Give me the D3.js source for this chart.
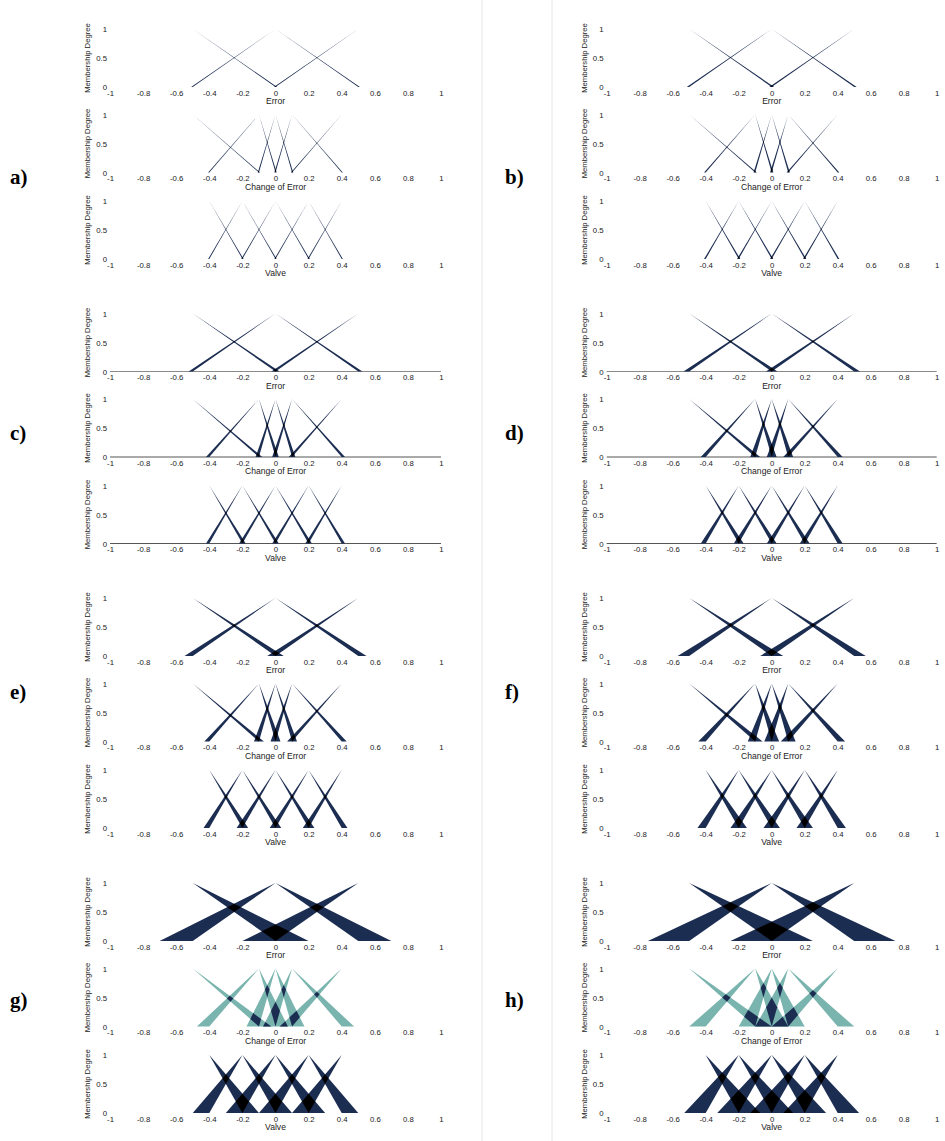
<!DOCTYPE html>
<html><head><meta charset="utf-8">
<script src="https://cdn.jsdelivr.net/npm/d3@7"></script>
<style>
body{margin:0;background:#fff;}
text{font-family:"Liberation Sans",Arial,Helvetica,sans-serif;}
</style>
</head><body>
<svg id="chart" width="945" height="1141"></svg>
<script>
// ---------------- data ----------------
const panelLabels = ["a)","b)","c)","d)","e)","f)","g)","h)"];
const variables = ["Error","Change of Error","Valve"];
const xTicks = [-1,-0.8,-0.6,-0.4,-0.2,0,0.2,0.4,0.6,0.8,1];
const yTicks = [0,0.5,1];

// membership functions (apex at degree 1, nominal feet at degree 0)
const errorApex      = [-0.5, 0, 0.5];
const errorLeftFoot  = [null, -0.5, 0];
const errorRightFoot = [0, 0.5, null];

const ceApex      = [-0.5, -0.1, 0, 0.1, 0.4];
const ceLeftFoot  = [null, -0.4, -0.1, 0, 0.1];
const ceRightFoot = [-0.1, 0, 0.1, 0.4, null];

const valveApex      = [-0.4, -0.2, 0, 0.2, 0.4];
const valveLeftFoot  = [null, -0.4, -0.2, 0, 0.2];
const valveRightFoot = [-0.2, 0, 0.2, 0.4, null];

// footprint of uncertainty (outward spread of the upper MF feet), panels a..h
const errorFOU = [0.01, 0.015, 0.025, 0.035, 0.05, 0.07, 0.2, 0.25];
const ceFOU    = [0.007, 0.01, 0.02, 0.03, 0.03, 0.045, 0.075, 0.1];
const valveFOU = [0.007, 0.01, 0.02, 0.03, 0.035, 0.05, 0.1, 0.13];

const baselineShown = [false,false,true,true,false,false,false,false];
const ceTeal        = [false,false,false,false,false,false,true,true];

// ---------------- layout ----------------
const colX = [[110,441],[606.7,936.7]];
const rowTop = [29, 313.5, 598, 883];
const subOffset = [0, 85.5, 172];
const plotH = 58;
const labelX = [10, 505];
const labelY = [184, 440, 699, 1007];

const NAVY = "#1c2d52", TEAL = "#79b4ae", BLACK = "#000000";

const svg = d3.select("#chart");

const mfSets = [
  {apex: errorApex, lf: errorLeftFoot, rf: errorRightFoot, fou: errorFOU},
  {apex: ceApex, lf: ceLeftFoot, rf: ceRightFoot, fou: ceFOU},
  {apex: valveApex, lf: valveLeftFoot, rf: valveRightFoot, fou: valveFOU}
];

// ---------- polygon helpers (data space) ----------
function area(p){let s=0;for(let i=0;i<p.length;i++){const a=p[i],b=p[(i+1)%p.length];s+=a[0]*b[1]-b[0]*a[1];}return s/2;}
function ccw(p){return area(p)<0?p.slice().reverse():p;}
function clip(subject, clipper){
  clipper = ccw(clipper);
  let out = subject.slice();
  for(let i=0;i<clipper.length && out.length;i++){
    const A=clipper[i], B=clipper[(i+1)%clipper.length];
    const side = P => (B[0]-A[0])*(P[1]-A[1])-(B[1]-A[1])*(P[0]-A[0]);
    const inter = (P,Q) => {
      const d1=side(P), d2=side(Q);
      const t=d1/(d1-d2);
      return [P[0]+t*(Q[0]-P[0]), P[1]+t*(Q[1]-P[1])];
    };
    const inp=out; out=[];
    for(let j=0;j<inp.length;j++){
      const P=inp[j], Q=inp[(j+1)%inp.length];
      const pi=side(P)>=-1e-12, qi=side(Q)>=-1e-12;
      if(pi){ out.push(P); if(!qi) out.push(inter(P,Q)); }
      else if(qi){ out.push(inter(P,Q)); }
    }
  }
  return out;
}

function wedges(set, panel){
  const u = set.fou[panel];
  const w = [];
  set.apex.forEach((a,i)=>{
    if(set.lf[i]!==null) w.push([[a,1],[set.lf[i],0],[set.lf[i]-u,0]]);
    if(set.rf[i]!==null) w.push([[a,1],[set.rf[i],0],[set.rf[i]+u,0]]);
  });
  return w;
}

panelLabels.forEach((lab, p) => {
  const col = p % 2, row = Math.floor(p/2);
  const [x0, x1] = colX[col];
  const x = d3.scaleLinear().domain([-1,1]).range([x0,x1]);

  svg.append("text").attr("x", labelX[col]).attr("y", labelY[row])
    .style("font-family","'Liberation Serif','Times New Roman',serif")
    .style("font-weight","bold").style("font-size","21px").text(lab);

  variables.forEach((vname, s) => {
    const top = rowTop[row] + subOffset[s];
    const y = d3.scaleLinear().domain([0,1]).range([top+plotH, top]);
    const g = svg.append("g");

    if(baselineShown[p]){
      g.append("line").attr("x1",x(-1)).attr("x2",x(1)).attr("y1",y(0)).attr("y2",y(0))
        .attr("stroke", s===0 ? "#8a8a8a" : "#555").attr("stroke-width",1);
    }

    const teal = s===1 && ceTeal[p];
    const c1 = teal ? TEAL : NAVY, c2 = teal ? NAVY : BLACK, c3 = BLACK;
    const W = wedges(mfSets[s], p);
    const line = d3.line().x(d=>x(d[0])).y(d=>y(d[1]));
    const draw = (poly, color) => {
      if(poly.length<3 || Math.abs(area(poly))<1e-7) return;
      g.append("path").attr("d", line(poly)+"Z").attr("fill", color);
    };
    W.forEach(w=>draw(w,c1));
    for(let i=0;i<W.length;i++)for(let j=i+1;j<W.length;j++){
      const ij = clip(W[j], W[i]);
      if(ij.length<3 || Math.abs(area(ij))<1e-7) continue;
      draw(ij, c2);
      for(let k=j+1;k<W.length;k++){
        draw(clip(W[k], ij), c3);
      }
    }

    // axes
    const xa = g.append("g").attr("transform",`translate(0,${y(0)})`)
      .call(d3.axisBottom(x).tickValues(xTicks).tickSize(0).tickPadding(3).tickFormat(d=>String(d)));
    xa.select(".domain").remove();
    xa.selectAll("text").style("font-size","7.8px").style("font-family","'Liberation Sans',Arial,sans-serif").attr("fill","#222");

    const ya = g.append("g").attr("transform",`translate(${x0},0)`)
      .call(d3.axisLeft(y).tickValues(yTicks).tickSize(0).tickPadding(3).tickFormat(d=>String(d)));
    ya.select(".domain").remove();
    ya.selectAll("text").style("font-size","7.8px").style("font-family","'Liberation Sans',Arial,sans-serif").attr("fill","#222");

    g.append("text").attr("x", x(0)).attr("y", y(0)+17).attr("text-anchor","middle")
      .style("font-size","8.6px").attr("fill","#222").text(vname);

    g.append("text").attr("transform",`translate(${x0-20},${(y(0)+y(1))/2}) rotate(-90)`)
      .attr("text-anchor","middle").style("font-size","7.7px").attr("fill","#222").text("Membership Degree");
  });
});

// panel dividers
[482, 552].forEach(xx => {
  svg.append("line").attr("x1",xx).attr("x2",xx).attr("y1",0).attr("y2",1141)
    .attr("stroke","#e6e6e6").attr("stroke-width",1);
});
</script>
</body></html>
